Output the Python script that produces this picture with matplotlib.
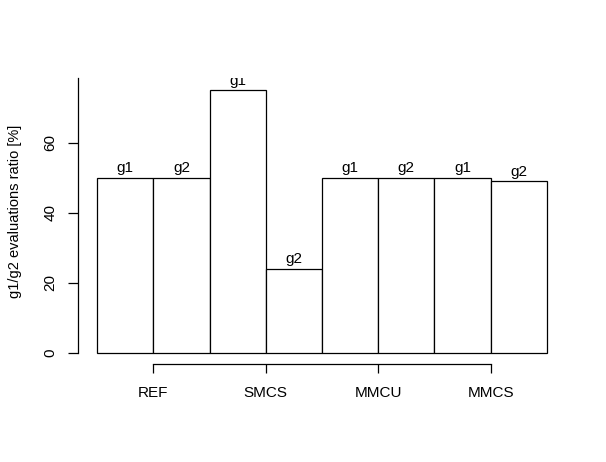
import matplotlib
matplotlib.use('Agg')
import matplotlib.pyplot as plt
import numpy as np

plt.rcParams['font.family'] = ['Liberation Sans', 'DejaVu Sans']
plt.rcParams['font.size'] = 11

groups = ['REF', 'SMCS', 'MMCU', 'MMCS']
bar_names = ['g1', 'g2']
g1 = [50, 75, 50, 50]
g2 = [50, 24, 50, 49]

heights = []
labels = []
for a, b in zip(g1, g2):
    heights += [a, b]
    labels += bar_names
pos = np.arange(len(heights))

fig = plt.figure(figsize=(6.06, 4.62), dpi=100)
ax = fig.add_axes([78 / 606, 109 / 462, 488 / 606, 275 / 462])

bars = ax.bar(pos, heights, width=1, align='edge', color='white', edgecolor='black', linewidth=0.9)
for b in bars:
    b.set_clip_on(False)
for x, h, lb in zip(pos, heights, labels):
    t = ax.annotate(lb, (x + 0.5, h), xytext=(0, 4.3), textcoords='offset points',
                    ha='center', va='baseline', annotation_clip=False)
    t.set_clip_on(True)
    t.set_clip_box(ax.bbox)

ax.set_xlim(-0.338, 8.338)
ax.set_ylim(0, 78.57)

for s in ['top', 'right']:
    ax.spines[s].set_visible(False)
ax.spines['left'].set_bounds(0, 78.57)
ax.spines['left'].set_linewidth(0.9)
ax.spines['bottom'].set_position(('outward', 8))
ax.spines['bottom'].set_bounds(1, 7)
ax.spines['bottom'].set_linewidth(0.9)

ax.set_xticks(pos[1::2], groups)
ax.set_yticks([0, 20, 40, 60])
ax.tick_params(axis='x', length=6.5, width=0.9, pad=9)
ax.tick_params(axis='y', length=7.2, width=0.9, pad=7.5, labelrotation=90)
for lab in ax.get_yticklabels():
    lab.set_va('center')

ax.set_ylabel('g1/g2 evaluations ratio [%]', fontsize=10.5)
ax.yaxis.set_label_coords(-0.115, 0.515)

fig.savefig('out.png', dpi=100)
